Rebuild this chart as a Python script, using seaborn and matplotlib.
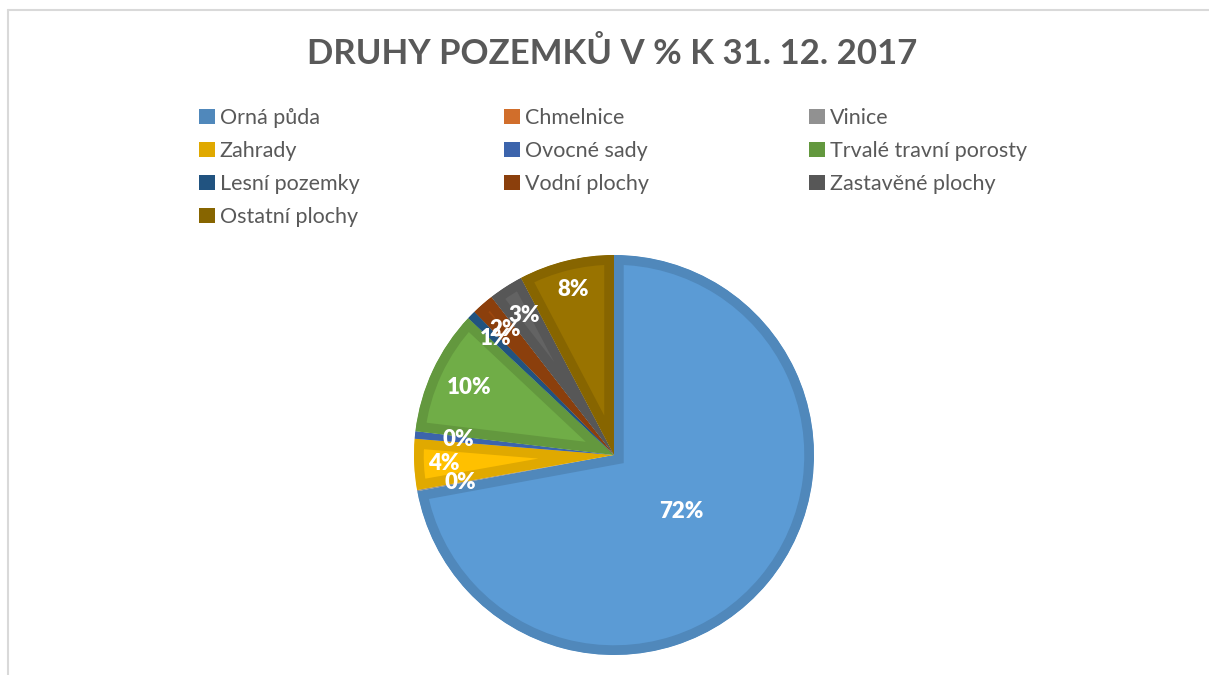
import numpy as np
import seaborn as sns
import matplotlib.pyplot as plt
from matplotlib.patches import Patch

categories = ['Orná půda', 'Chmelnice', 'Vinice', 'Zahrady', 'Ovocné sady',
              'Trvalé travní porosty', 'Lesní pozemky', 'Vodní plochy',
              'Zastavěné plochy', 'Ostatní plochy']
shares = [72.1, 0.0, 0.1, 4.1, 0.6, 10.1, 0.7, 1.8, 2.8, 7.7]
pct_labels = ['72%', '', '0%', '4%', '0%', '10%', '1%', '2%', '3%', '8%']
colors = ['#5B9BD5', '#ED7D31', '#A5A5A5', '#FFC000', '#4472C4',
          '#70AD47', '#255E91', '#9E480E', '#636363', '#997300']
# how far out each percent label sits (fraction of radius)
label_r = [0.44, 0.78, 0.78, 0.85, 0.78, 0.80, 0.83, 0.83, 0.83, 0.85]

sns.set_theme(style='white')
plt.rcParams['font.family'] = ['Lato', 'DejaVu Sans']

palette = sns.color_palette(colors)
borders = [tuple(c * 0.88 for c in col) for col in palette]

fig = plt.figure(figsize=(12.09, 6.75), dpi=100)
W, H = 1209, 675

# chart frame (top and left edges only visible)
fig.add_artist(plt.Line2D([8 / W, 1], [1 - 10 / H, 1 - 10 / H], color='#D9D9D9', lw=1.5))
fig.add_artist(plt.Line2D([8 / W, 8 / W], [0, 1 - 10 / H], color='#D9D9D9', lw=1.5))

fig.text(612 / W, 1 - 54 / H, 'DRUHY POZEMKŮ V % K 31. 12. 2017', ha='center', va='center',
         fontsize=25, fontweight='bold', color='#595959')

# pie
cx, cy, r = 614, 455, 200
ax = fig.add_axes([(cx - r) / W, (H - cy - r) / H, 2 * r / W, 2 * r / H])
wedges, _ = ax.pie(shares, colors=palette, startangle=90, counterclock=False, radius=1,
                   wedgeprops=dict(linewidth=0))
for w, b in zip(wedges, borders):
    w.set_edgecolor(b)
    w.set_linewidth(14)
    # keep the thick edge inside the slice
    w.set_clip_on(True)
    w.set_clip_path(w.get_path(), w.get_transform())
ax.set_xlim(-1, 1)
ax.set_ylim(-1, 1)
ax.set_aspect('equal')

for w, lab, rr in zip(wedges, pct_labels, label_r):
    if not lab:
        continue
    mid = np.deg2rad((w.theta1 + w.theta2) / 2)
    ax.text(rr * np.cos(mid), rr * np.sin(mid), lab, ha='center', va='center',
            color='white', fontsize=16, fontweight='heavy')

# legend, three columns filled row by row
col_x = [199, 504, 809]
for c in range(3):
    idx = list(range(c, len(categories), 3))
    handles = [Patch(facecolor=borders[i], edgecolor='none') for i in idx]
    fig.legend(handles, [categories[i] for i in idx], loc='upper left',
               bbox_to_anchor=(col_x[c] / W, 1 - 108 / H), frameon=False,
               fontsize=15.5, labelcolor='#595959', handlelength=0.72, handleheight=0.72,
               handletextpad=0.25, labelspacing=0.6, borderpad=0, borderaxespad=0)

fig.savefig('out.png', dpi=100, facecolor='white')
